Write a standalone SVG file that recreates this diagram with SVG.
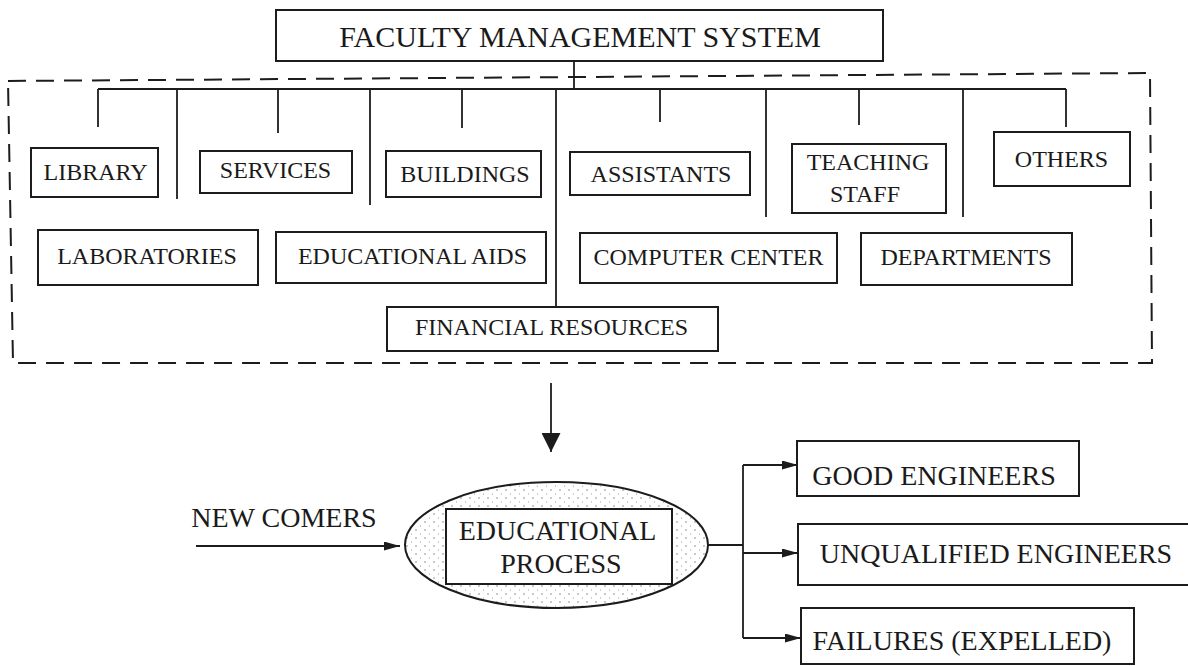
<svg xmlns="http://www.w3.org/2000/svg" width="1188" height="666" viewBox="0 0 1188 666">
<style>
  .box { fill: #ffffff; stroke: #1c1c1c; stroke-width: 2; }
  .ln { fill: none; stroke: #1c1c1c; stroke-width: 1.8; }
  .dash { fill: none; stroke: #1c1c1c; stroke-width: 2; stroke-dasharray: 18 10; }
  .t { font-family: "Liberation Serif", "Times New Roman", serif; fill: #1a1a1a; text-anchor: middle; }
  .s24 { font-size: 24px; }
  .s28 { font-size: 28px; }
  .s30 { font-size: 30px; }
</style>
<defs>
  <marker id="arr" markerUnits="userSpaceOnUse" viewBox="0 0 16 9" refX="16" refY="4.5" markerWidth="16" markerHeight="9" orient="auto">
    <path d="M0,0 L16,4.5 L0,9 Z" fill="#1c1c1c"/>
  </marker>
  <marker id="arrBig" markerUnits="userSpaceOnUse" viewBox="0 0 19 19" refX="19" refY="9.5" markerWidth="19" markerHeight="19" orient="auto">
    <path d="M0,0 L19,9.5 L0,19 Z" fill="#1c1c1c"/>
  </marker>
  <pattern id="dots" patternUnits="userSpaceOnUse" width="9" height="8">
    <circle cx="2" cy="2" r="0.7" fill="#6a6a6a"/>
    <circle cx="6.5" cy="6" r="0.6" fill="#8a8a8a"/>
  </pattern>
</defs>
<rect width="1188" height="666" fill="#ffffff"/>

<g id="boundary">
  <path class="dash" d="M8,81 L1150,73 L1152,363 L13,363 Z"/>
</g>

<g id="connectors">
  <path class="ln" d="M574,61 V89"/>
  <path class="ln" d="M98,89 H1066"/>
  <path class="ln" d="M98,89 V127"/>
  <path class="ln" d="M177,89 V199"/>
  <path class="ln" d="M278,89 V133"/>
  <path class="ln" d="M370,89 V205"/>
  <path class="ln" d="M462,89 V128"/>
  <path class="ln" d="M556,89 V307"/>
  <path class="ln" d="M660,89 V122"/>
  <path class="ln" d="M766,89 V217"/>
  <path class="ln" d="M859,89 V125"/>
  <path class="ln" d="M963,89 V217"/>
  <path class="ln" d="M1066,89 V127"/>
  <path class="ln" d="M551,383 V452" marker-end="url(#arrBig)"/>
  <path class="ln" d="M196,546 H400" marker-end="url(#arr)"/>
  <path class="ln" d="M708,545 H743"/>
  <path class="ln" d="M743,465 V638"/>
  <path class="ln" d="M743,465 H798" marker-end="url(#arr)"/>
  <path class="ln" d="M743,553 H798" marker-end="url(#arr)"/>
  <path class="ln" d="M743,638 H801" marker-end="url(#arr)"/>
</g>

<g id="faculty-management-system">
  <rect class="box" x="276" y="10" width="607" height="51"/>
  <text class="t s30" x="580" y="47">FACULTY MANAGEMENT SYSTEM</text>
</g>

<g id="library">
  <rect class="box" x="31" y="148" width="127" height="49"/>
  <text class="t s24" x="95.5" y="180">LIBRARY</text>
</g>
<g id="services">
  <rect class="box" x="200" y="151" width="152" height="42"/>
  <text class="t s24" x="275.5" y="178">SERVICES</text>
</g>
<g id="buildings">
  <rect class="box" x="386" y="151" width="155" height="46"/>
  <text class="t s24" x="465" y="182">BUILDINGS</text>
</g>
<g id="assistants">
  <rect class="box" x="570" y="152" width="180" height="43"/>
  <text class="t s24" x="661" y="182">ASSISTANTS</text>
</g>
<g id="teaching-staff">
  <rect class="box" x="792" y="144" width="154" height="69"/>
  <text class="t s24" x="868" y="170">TEACHING</text>
  <text class="t s24" x="865" y="202">STAFF</text>
</g>
<g id="others">
  <rect class="box" x="994" y="132" width="136" height="54"/>
  <text class="t s24" x="1061.5" y="167">OTHERS</text>
</g>
<g id="laboratories">
  <rect class="box" x="38" y="230" width="220" height="55"/>
  <text class="t s24" x="147" y="264">LABORATORIES</text>
</g>
<g id="educational-aids">
  <rect class="box" x="276" y="232" width="270" height="51"/>
  <text class="t s24" x="412.5" y="264">EDUCATIONAL AIDS</text>
</g>
<g id="computer-center">
  <rect class="box" x="580" y="233" width="257" height="50"/>
  <text class="t s24" x="708.5" y="265">COMPUTER CENTER</text>
</g>
<g id="departments">
  <rect class="box" x="861" y="233" width="211" height="52"/>
  <text class="t s24" x="966" y="265">DEPARTMENTS</text>
</g>
<g id="financial-resources">
  <rect class="box" x="387" y="307" width="331" height="44"/>
  <text class="t s24" x="551.5" y="335">FINANCIAL RESOURCES</text>
</g>

<g id="new-comers">
  <text class="t s28" x="284" y="527">NEW COMERS</text>
</g>

<g id="educational-process">
  <ellipse cx="556.5" cy="545" rx="151.5" ry="63" fill="url(#dots)" stroke="#1c1c1c" stroke-width="2"/>
  <rect class="box" x="446" y="509" width="226" height="75"/>
  <text class="t s28" x="557.5" y="540">EDUCATIONAL</text>
  <text class="t s28" x="561" y="573">PROCESS</text>
</g>

<g id="good-engineers">
  <rect class="box" x="797" y="441" width="282" height="55"/>
  <text class="t s28" x="934" y="485">GOOD ENGINEERS</text>
</g>
<g id="unqualified-engineers">
  <rect class="box" x="798" y="524" width="392" height="61"/>
  <text class="t s28" x="996" y="563">UNQUALIFIED ENGINEERS</text>
</g>
<g id="failures-expelled">
  <rect class="box" x="801" y="608" width="333" height="56"/>
  <text class="t s28" x="962" y="650">FAILURES (EXPELLED)</text>
</g>
</svg>
